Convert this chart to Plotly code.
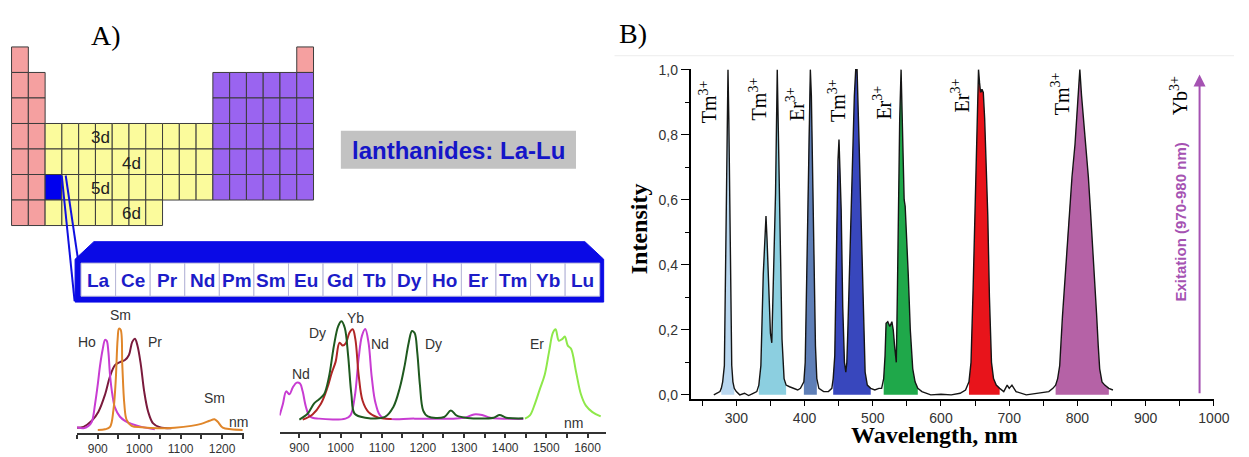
import plotly.graph_objects as go

W, H = 1249, 457


def px(x):
    return x / W


def py(y):
    return 1 - y / H


SANS = "Liberation Sans, Arial, sans-serif"
SERIF = "Liberation Serif, Times New Roman, serif"

# ---------------- Panel B : emission spectrum ----------------
wavelength = [267, 272, 276, 278, 280, 282.5, 284, 285, 286.5, 287.8, 289, 290.5, 291.5, 293.3, 295, 297, 300,
              305, 312, 318, 324, 330, 333, 336, 339.5, 342, 343.5, 345, 347.8, 350, 352, 355, 357.5, 360, 362,
              364.5, 367, 370, 373, 378, 384, 390, 394, 397, 399, 401, 403, 405, 407, 408.5, 410, 412, 414, 416,
              418, 421, 428, 435, 440, 442, 444.3, 446.6, 449, 450.5, 452, 453.7, 456, 458.5, 460.5, 462, 463.5,
              465.6, 468, 470.5, 473, 475, 477, 480, 482.5, 484.8, 487, 488.8, 492, 497, 503, 509, 513, 516, 518,
              519.5, 522, 525, 528, 530, 532, 534.5, 536, 537.5, 539.5, 541.5, 543, 544, 545, 546, 547.5, 549, 552,
              555, 558.6, 562, 566, 572, 585, 600, 615, 628, 636, 641, 644, 647, 650, 653, 655, 656.5, 658, 660,
              662, 664, 666.5, 668.6, 671, 674, 677, 681, 686, 692, 697, 700, 704, 710, 725, 745, 758, 764, 768,
              771, 774, 778, 782, 785, 788.3, 792, 796.4, 800, 803.5, 806, 809, 812.3, 816, 819, 822, 825.3, 828,
              830.5, 832.6, 836, 840, 846, 852]
intensity = [0.0, 0.005, 0.01, 0.02, 0.04, 0.09, 0.35, 0.6, 0.85, 1.0, 0.85, 0.6, 0.4, 0.09, 0.04, 0.02, 0.01,
             0.0, 0.005, -0.002, 0.004, 0.01, 0.03, 0.09, 0.37, 0.52, 0.55, 0.48, 0.31, 0.19, 0.16, 0.37, 0.62,
             1.0, 0.77, 0.47, 0.17, 0.05, 0.03, 0.025, 0.02, 0.015, 0.02, 0.03, 0.04, 0.1, 0.35, 0.65, 0.9, 1.0,
             0.92, 0.7, 0.42, 0.15, 0.05, 0.02, 0.01, 0.01, 0.02, 0.05, 0.12, 0.47, 0.72, 0.785, 0.7, 0.57, 0.27,
             0.1, 0.07, 0.1, 0.2, 0.37, 0.6, 0.77, 0.92, 1.0, 1.0, 0.77, 0.55, 0.37, 0.15, 0.07, 0.03, 0.02,
             0.015, 0.02, 0.02, 0.05, 0.12, 0.22, 0.225, 0.21, 0.225, 0.2, 0.15, 0.1, 0.3, 0.55, 0.85, 1.0, 0.85,
             0.77, 0.65, 0.6, 0.58, 0.52, 0.37, 0.2, 0.08, 0.04, 0.02, 0.01, 0.0, 0.002, 0.0, 0.005, 0.015, 0.04,
             0.1, 0.32, 0.57, 0.88, 1.0, 0.96, 0.93, 0.94, 0.93, 0.85, 0.7, 0.55, 0.3, 0.1, 0.05, 0.03, 0.02,
             0.01, 0.03, 0.02, 0.03, 0.01, 0.0, 0.005, 0.01, 0.02, 0.03, 0.05, 0.09, 0.24, 0.37, 0.47, 0.57,
             0.67, 0.77, 0.9, 1.0, 0.92, 0.85, 0.77, 0.67, 0.57, 0.47, 0.37, 0.25, 0.15, 0.08, 0.04, 0.03, 0.02,
             0.015]

band_start = [278, 333, 399, 441, 516, 641, 766]
band_end = [297, 373, 418, 497, 566, 686, 850]
band_color = ["#b9d7ef", "#8ccfe0", "#5f7fb7", "#3847bd", "#1fa84a", "#e8141b", "#b562a6"]

label_ion = ["Tm", "Tm", "Er", "Tm", "Er", "Er", "Tm", "Yb"]
label_x = [258.6, 331, 386.4, 446.7, 514.2, 627.6, 774.7, 948.4]
label_y = [0.90, 0.91, 0.895, 0.905, 0.90, 0.92, 0.925, 0.92]

excitation_nm = 979
excitation_top = 0.985

# ---------------- Panel A : small NIR spectra ----------------
ho_nm = [849.6, 865.6, 877.6, 885.6, 893.6, 900, 905.6, 912, 917.6, 921.6, 925.6, 929.6, 935.2, 941.6, 953.6,
         965.6, 981.6, 1005.6, 1037.6]
ho_int = [0.026, 0.016, 0.04, 0.08, 0.26, 0.45, 0.64, 0.80, 0.89, 0.88, 0.77, 0.54, 0.35, 0.22, 0.13, 0.09,
          0.06, 0.03, 0.006]
sm_nm = [900, 917.6, 929.6, 937.6, 943.2, 948, 951.2, 955.2, 959.2, 964, 969.6, 981.6, 1005.6, 1045.6, 1085.6,
         1125.6, 1149.6, 1169.6, 1181.6, 1189.6, 1201.6, 1221.6, 1249.6]
sm_int = [0.0, 0.006, 0.03, 0.19, 0.48, 0.9, 1.0, 0.99, 0.64, 0.26, 0.1, 0.04, 0.026, 0.016, 0.022, 0.04, 0.06,
          0.09, 0.106, 0.08, 0.022, 0.006, 0.0]
pr_nm = [849.6, 865.6, 885.6, 901.6, 917.6, 929.6, 941.6, 953.6, 965.6, 975.2, 983.2, 989.6, 996, 1004, 1012,
         1021.6, 1033.6, 1049.6, 1077.6]
pr_int = [0.022, 0.03, 0.09, 0.18, 0.35, 0.53, 0.64, 0.67, 0.69, 0.74, 0.87, 0.90, 0.83, 0.64, 0.38, 0.18,
          0.064, 0.026, 0.016]

nd_nm = [852, 860, 868, 876, 884, 893.6, 901.6, 908, 916, 925.6, 948, 1012, 1024, 1034.4, 1044, 1052, 1060, 1068,
         1076, 1085.6, 1100, 1180, 1300, 1324, 1344, 1364, 1444]
nd_int = [0.033, 0.15, 0.28, 0.25, 0.32, 0.37, 0.36, 0.28, 0.12, 0.023, 0.0, 0.0, 0.033, 0.22, 0.62, 0.85, 0.92,
          0.78, 0.42, 0.15, 0.017, 0.0, 0.01, 0.043, 0.037, 0.01, -0.003]
dy_nm = [900, 920, 936, 948, 960, 972, 984, 994.4, 1002.4, 1010.4, 1018.4, 1026.4, 1034.4, 1060, 1108, 1128, 1144,
         1156, 1165.6, 1173.6, 1180, 1186.4, 1192.8, 1200.8, 1212, 1252, 1268, 1282.4, 1308, 1372, 1386.4, 1402.4,
         1444]
dy_int = [-0.01, 0.05, 0.157, 0.2, 0.25, 0.43, 0.75, 0.95, 1.0, 0.93, 0.65, 0.25, 0.05, 0.01, 0.017, 0.117, 0.317,
          0.55, 0.78, 0.9, 0.88, 0.68, 0.35, 0.083, 0.023, 0.017, 0.083, 0.03, 0.007, 0.01, 0.037, 0.01, 0.003]
yb_nm = [908, 932, 952, 968, 978.4, 988, 997.6, 1005.6, 1013.6, 1021.6, 1029.6, 1036, 1044, 1053.6, 1068, 1092,
         1124]
yb_int = [-0.01, 0.043, 0.15, 0.317, 0.467, 0.583, 0.78, 0.75, 0.78, 0.883, 0.917, 0.817, 0.45, 0.183, 0.067,
          0.01, -0.003]
er_nm = [1448, 1460, 1472, 1484, 1496, 1506.4, 1516, 1522.4, 1530.4, 1538.4, 1544.8, 1552, 1560, 1572, 1584, 1596,
         1612, 1632]
er_int = [0.0, 0.033, 0.15, 0.3, 0.45, 0.683, 0.883, 0.917, 0.8, 0.817, 0.843, 0.75, 0.717, 0.483, 0.25, 0.133,
          0.067, 0.023]

lanthanides = ["La", "Ce", "Pr", "Nd", "Pm", "Sm", "Eu", "Gd", "Tb", "Dy", "Ho", "Er", "Tm", "Yb", "Lu"]

# periodic table block layout (P=s-block, Y=d-block, V=p-block, B=lanthanide slot)
pt_layout = [
    "P................P",
    "PP..........VVVVVV",
    "PP..........VVVVVV",
    "PPYYYYYYYYYYVVVVVV",
    "PPYYYYYYYYYYVVVVVV",
    "PPBYYYYYYYYYVVVVVV",
    "PPYYYYYYY.........",
]
pt_colors = {"P": "#f5a0a0", "Y": "#fbfb9c", "V": "#9a64f0", "B": "#0000ee"}
d_labels = ["3d", "4d", "5d", "6d"]

fig = go.Figure()

# filled bands of panel B
for s, e, c in zip(band_start, band_end, band_color):
    xs = [w for w in wavelength if s <= w <= e]
    ys = [v for w, v in zip(wavelength, intensity) if s <= w <= e]
    fig.add_trace(go.Scatter(x=xs, y=ys, mode="lines", fill="tozeroy", fillcolor=c,
                             line=dict(width=0, color=c), hoverinfo="skip", showlegend=False))
fig.add_trace(go.Scatter(x=wavelength, y=intensity, mode="lines", line=dict(color="#151515", width=1.4),
                         showlegend=False))

# small spectra panel A1
for xs, ys, c in [(pr_nm, pr_int, "#7a1a3c"), (ho_nm, ho_int, "#c83cd2"), (sm_nm, sm_int, "#e0862a")]:
    fig.add_trace(go.Scatter(x=xs, y=ys, mode="lines", line=dict(color=c, width=2, shape="spline"),
                             xaxis="x2", yaxis="y2", showlegend=False))
# small spectra panel A2
for xs, ys, c in [(nd_nm, nd_int, "#c83cd2"), (yb_nm, yb_int, "#b02626"), (dy_nm, dy_int, "#1f5a1f"),
                  (er_nm, er_int, "#8ee84a")]:
    fig.add_trace(go.Scatter(x=xs, y=ys, mode="lines", line=dict(color=c, width=2, shape="spline"),
                             xaxis="x3", yaxis="y3", showlegend=False))

shapes = []
annotations = []


def note(text, x, y, xref="paper", yref="paper", **kw):
    d = dict(text=text, x=x, y=y, xref=xref, yref=yref, showarrow=False, xanchor="center", yanchor="middle")
    d.update(kw)
    annotations.append(d)


# ---- periodic table
x0, y0, cw, ch = 11.7, 40.0, 16.98, 26.2
for r, row in enumerate(pt_layout):
    for c, k in enumerate(row):
        if k == ".":
            continue
        shapes.append(dict(type="rect", xref="paper", yref="paper",
                           x0=px(x0 + c * cw), x1=px(x0 + (c + 1) * cw),
                           y0=py(y0 + (r + 1) * ch), y1=py(y0 + r * ch),
                           fillcolor=pt_colors[k], line=dict(color="#3c3c3c", width=1), layer="below"))
for t, (lx, ly) in zip(d_labels, [(101.7, 133), (132.7, 159.5), (101.7, 185), (132.7, 211.5)]):
    note(t, px(lx), py(ly), font=dict(family=SANS, size=17, color="#222"))

# connector lines from the lanthanide slot to the expanded row
shapes.append(dict(type="line", xref="paper", yref="paper", x0=px(62.5), y0=py(172), x1=px(75.5), y1=py(301),
                   line=dict(color="#1010e0", width=2)))
shapes.append(dict(type="line", xref="paper", yref="paper", x0=px(66.5), y0=py(172), x1=px(79.5), y1=py(262),
                   line=dict(color="#1010e0", width=2)))

# expanded lanthanide row box
pts = [(76, 258), (95, 240), (592, 240), (611, 258), (611, 302), (76, 302)]
path = "M " + " L ".join(f"{px(a):.5f},{py(b):.5f}" for a, b in pts) + " Z"
shapes.append(dict(type="path", xref="paper", yref="paper", path=path, fillcolor="#0a0ae6",
                   line=dict(color="#0a0ae6", width=1)))
lx0, lx1 = 82.0, 607.0
lw = (lx1 - lx0) / len(lanthanides)
for i, el in enumerate(lanthanides):
    shapes.append(dict(type="rect", xref="paper", yref="paper", x0=px(lx0 + i * lw), x1=px(lx0 + (i + 1) * lw),
                       y0=py(296), y1=py(262), fillcolor="white", line=dict(color="#b8b8d8", width=1)))
    note(f"<b>{el}</b>", px(lx0 + (i + 0.5) * lw), py(279.5), font=dict(family=SANS, size=19, color="#1c1cc8"))

# "lanthanides: La-Lu" box
shapes.append(dict(type="rect", xref="paper", yref="paper", x0=px(345), x1=px(583), y0=py(165), y1=py(126),
                   fillcolor="#c2c2c2", line=dict(width=0)))
note("<b>lanthanides: La-Lu</b>", px(464), py(146), font=dict(family=SANS, size=24, color="#1515c8"))

# faint frame line of panel B
shapes.append(dict(type="line", xref="paper", yref="paper", x0=px(622), x1=px(1249), y0=py(49), y1=py(49),
                   line=dict(color="#ececec", width=1)))

# panel letters
note("A)", px(107), py(28), font=dict(family=SERIF, size=28, color="black"))
note("B)", px(641), py(26), font=dict(family=SERIF, size=28, color="black"))

# small-spectra labels
for t, x, y in [("Ho", 874.6, 0.865), ("Sm", 954.2, 1.14), ("Pr", 1037.6, 0.865), ("Sm", 1180.7, 0.32),
                ("nm", 1240, 0.08)]:
    note(t, x, y, "x2", "y2", font=dict(family=SANS, size=14, color="#333"))
for t, x, y in [("Nd", 904.8, 0.457), ("Dy", 944.9, 0.884), ("Yb", 1036.8, 1.034), ("Nd", 1096.8, 0.767),
                ("Dy", 1224.7, 0.767), ("Er", 1476.7, 0.767), ("nm", 1564.8, -0.043)]:
    note(t, x, y, "x3", "y3", font=dict(family=SANS, size=14, color="#333"))

# panel B ion labels
for ion, x, y in zip(label_ion, label_x, label_y):
    note(f"{ion}<sup>3+</sup>", x, y, "x", "y", textangle=-90, font=dict(family=SERIF, size=20, color="black"))

# excitation arrow and text
annotations.append(dict(text="", x=excitation_nm, y=excitation_top, ax=excitation_nm, ay=0.0, xref="x", yref="y",
                        axref="x", ayref="y", showarrow=True, arrowhead=2, arrowsize=1.2, arrowwidth=2,
                        arrowcolor="#a552b2", standoff=0))
note("<b>Exitation (970-980 nm)</b>", 950.8, 0.531, "x", "y", textangle=-90,
     font=dict(family=SANS, size=15, color="#a552b2"))

# axis titles for panel B
note("<b>Intensity</b>", px(647), py(227), textangle=-90, font=dict(family=SERIF, size=24, color="black"))
note("<b>Wavelength, nm</b>", px(946), py(439), font=dict(family=SERIF, size=24, color="black"))

tickfont = dict(family=SANS, size=14, color="#333")
small_tickfont = dict(family=SANS, size=12, color="#333")

fig.update_layout(
    width=W, height=H, margin=dict(l=0, r=0, t=0, b=0, pad=0),
    paper_bgcolor="white", plot_bgcolor="rgba(0,0,0,0)",
    separators=", ",
    showlegend=False,
    shapes=shapes, annotations=annotations,
    xaxis=dict(domain=[px(699), px(1229)], range=[233, 1000.5], anchor="y", showline=True, linecolor="black",
               linewidth=1.5, ticks="outside", ticklen=5, tickwidth=1.3, tickcolor="black", tick0=0, dtick=100,
               minor=dict(dtick=50, tick0=0, ticks="outside", ticklen=5, tickwidth=1.3, tickcolor="black"),
               showgrid=False, zeroline=False, tickfont=tickfont),
    yaxis=dict(domain=[py(401.7), py(62.7)], range=[-0.0132, 1.0018], anchor="x", showline=True,
               linecolor="black", linewidth=1.5, ticks="outside", ticklen=8, tickwidth=1.3, tickcolor="black",
               tick0=0, dtick=0.2, tickformat=".1f",
               minor=dict(dtick=0.1, tick0=0, ticks="outside", ticklen=4, tickwidth=1.2, tickcolor="black"),
               showgrid=False, zeroline=False, tickfont=tickfont),
    xaxis2=dict(domain=[px(78), px(247)], range=[850, 1253], anchor="y2", showline=True, linecolor="#333",
                linewidth=2, ticks="outside", ticklen=4, tickwidth=1.5, tickcolor="#333", tick0=0, dtick=100,
                minor=dict(dtick=50, tick0=0, ticks="outside", ticklen=4, tickwidth=1.5, tickcolor="#333"),
                showgrid=False, zeroline=False, tickfont=small_tickfont),
    yaxis2=dict(domain=[py(436), py(310)], range=[-0.026, 1.186], anchor="x2", visible=False),
    xaxis3=dict(domain=[px(283), px(613)], range=[852, 1644], anchor="y3", showline=True, linecolor="#333",
                linewidth=2, ticks="outside", ticklen=4, tickwidth=1.5, tickcolor="#333", tick0=0, dtick=100,
                minor=dict(dtick=50, tick0=0, ticks="outside", ticklen=4, tickwidth=1.5, tickcolor="#333"),
                showgrid=False, zeroline=False, tickfont=small_tickfont),
    yaxis3=dict(domain=[py(435), py(310)], range=[-0.133, 1.117], anchor="x3", visible=False),
)

post = (
    "var s=document.createElement('style');"
    "s.textContent='html,body{margin:0!important;padding:0!important;overflow:hidden!important;}';"
    "document.head.appendChild(s);"
)
fig.write_html("out.html", config={"displayModeBar": False}, post_script=post)
